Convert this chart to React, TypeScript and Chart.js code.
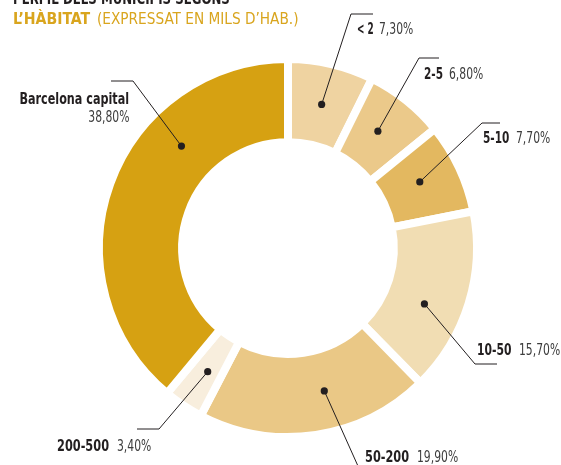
import React, { useEffect, useRef } from "react";
import { Chart, registerables } from "chart.js";

Chart.register(...registerables);

// ---- data ----
const categories = ["< 2", "2-5", "5-10", "10-50", "50-200", "200-500", "Barcelona capital"];
const shares = [7.3, 6.8, 7.7, 15.7, 19.9, 3.4, 38.8];
const colors = ["#EFD3A1", "#EBC98A", "#E3B860", "#F1DDB3", "#EAC886", "#F8EEDD", "#D6A112"];

const fmt = (v: number) => v.toFixed(2).replace(".", ",") + "%";

// ---- layout (positions only) ----
const dotFrac = [0.5, 0.455, 0.446, 0.59, 0.42, 0.45, 0.67];
// elbow x, elbow y, tail end x
const elbows: number[][] = [
  [351, 14, 373],
  [419, 58, 439],
  [482, 123, 500],
  [475, 364, 497],
  [362, 475, 380],
  [159, 429, 137],
  [133, 81, 111],
];
// name x, value x, baseline y, name squeeze (right: right-aligned two-line label)
const labelPos: { nx: number; vx: number; y: number; s: number; right?: boolean }[] = [
  { nx: 357, vx: 379, y: 34, s: 0.66 },
  { nx: 424, vx: 449, y: 79, s: 0.78 },
  { nx: 483, vx: 516, y: 143, s: 0.78 },
  { nx: 477, vx: 519, y: 355, s: 0.8 },
  { nx: 365, vx: 417, y: 462, s: 0.84 },
  { nx: 57, vx: 117, y: 451, s: 0.84 },
  { nx: 129, vx: 129, y: 104, s: 0.83, right: true },
];

const FONT = '"DejaVu Sans Condensed", "DejaVu Sans", sans-serif';
const FS = 15;
const SR = 0.8; // horizontal squeeze for values

const leaderPlugin = {
  id: "leaders",
  afterDatasetsDraw(chart: any) {
    const ctx = chart.ctx;
    const meta = chart.getDatasetMeta(0);
    meta.data.forEach((arc: any, i: number) => {
      const p = arc.getProps(["x", "y", "startAngle", "endAngle", "innerRadius", "outerRadius"], true);
      const a = p.startAngle + (p.endAngle - p.startAngle) * dotFrac[i];
      const r = (p.innerRadius + p.outerRadius) / 2;
      const dx = p.x + Math.cos(a) * r;
      const dy = p.y + Math.sin(a) * r;
      const [ex, ey, tx] = elbows[i];
      ctx.save();
      ctx.strokeStyle = "#231f20";
      ctx.lineWidth = 1;
      ctx.beginPath();
      ctx.moveTo(dx, dy);
      ctx.lineTo(ex, ey);
      ctx.lineTo(tx, ey);
      ctx.stroke();
      ctx.fillStyle = "#231f20";
      ctx.beginPath();
      ctx.arc(dx, dy, 3.6, 0, Math.PI * 2);
      ctx.fill();
      ctx.restore();
    });
  },
};

function Txt(props: {
  x: number;
  y: number;
  size: number;
  scale: number;
  bold?: boolean;
  color: string;
  right?: boolean;
  children: React.ReactNode;
}) {
  const { x, y, size, scale, bold, color, right, children } = props;
  const style: React.CSSProperties = {
    position: "absolute",
    top: y - 0.8 * size,
    fontFamily: FONT,
    fontSize: size,
    lineHeight: `${size}px`,
    fontWeight: bold ? 700 : 400,
    color,
    whiteSpace: "nowrap",
    transform: `scaleX(${scale})`,
    transformOrigin: right ? "right center" : "left center",
  };
  if (right) style.right = 561 - x;
  else style.left = x;
  return <div style={style}>{children}</div>;
}

export default function App() {
  const ref = useRef<HTMLCanvasElement | null>(null);
  useEffect(() => {
    if (!ref.current) return;
    const chart = new Chart(ref.current, {
      type: "doughnut",
      data: {
        labels: categories,
        datasets: [
          {
            data: shares,
            backgroundColor: colors,
            borderColor: "#ffffff",
            borderWidth: 8,
            hoverOffset: 0,
          },
        ],
      },
      options: {
        responsive: false,
        animation: false,
        radius: 189,
        cutout: "56%",
        layout: { padding: { left: 15, top: 31, right: 0, bottom: 0 } },
        plugins: { legend: { display: false }, tooltip: { enabled: false }, title: { display: false } },
        events: [],
      } as any,
      plugins: [leaderPlugin],
    });
    return () => chart.destroy();
  }, []);

  return (
    <div style={{ position: "fixed", left: 0, top: 0, width: 561, height: 465, background: "#fff", overflow: "hidden" }}>
      <canvas ref={ref} width={561} height={465} style={{ position: "absolute", left: 0, top: 0 }} />
      <Txt x={13} y={4} size={16} scale={0.82} bold color="#231f20">
        PERFIL DELS MUNICIPIS SEGONS
      </Txt>
      <Txt x={13} y={23.5} size={16} scale={0.98} bold color="#D9A51E">
        L’HÀBITAT
      </Txt>
      <Txt x={97} y={23.5} size={16} scale={0.95} color="#D9A51E">
        (EXPRESSAT EN MILS D’HAB.)
      </Txt>
      {categories.map((c, i) => {
        const lp = labelPos[i];
        if (lp.right) {
          return (
            <React.Fragment key={c}>
              <Txt x={lp.nx} y={lp.y} size={FS} scale={lp.s} bold right color="#231f20">
                {c}
              </Txt>
              <Txt x={lp.vx} y={lp.y + 18} size={FS} scale={SR} right color="#3d3d3d">
                {fmt(shares[i])}
              </Txt>
            </React.Fragment>
          );
        }
        return (
          <React.Fragment key={c}>
            <Txt x={lp.nx} y={lp.y} size={FS} scale={lp.s} bold color="#231f20">
              {c}
            </Txt>
            <Txt x={lp.vx} y={lp.y} size={FS} scale={SR} color="#3d3d3d">
              {fmt(shares[i])}
            </Txt>
          </React.Fragment>
        );
      })}
    </div>
  );
}
